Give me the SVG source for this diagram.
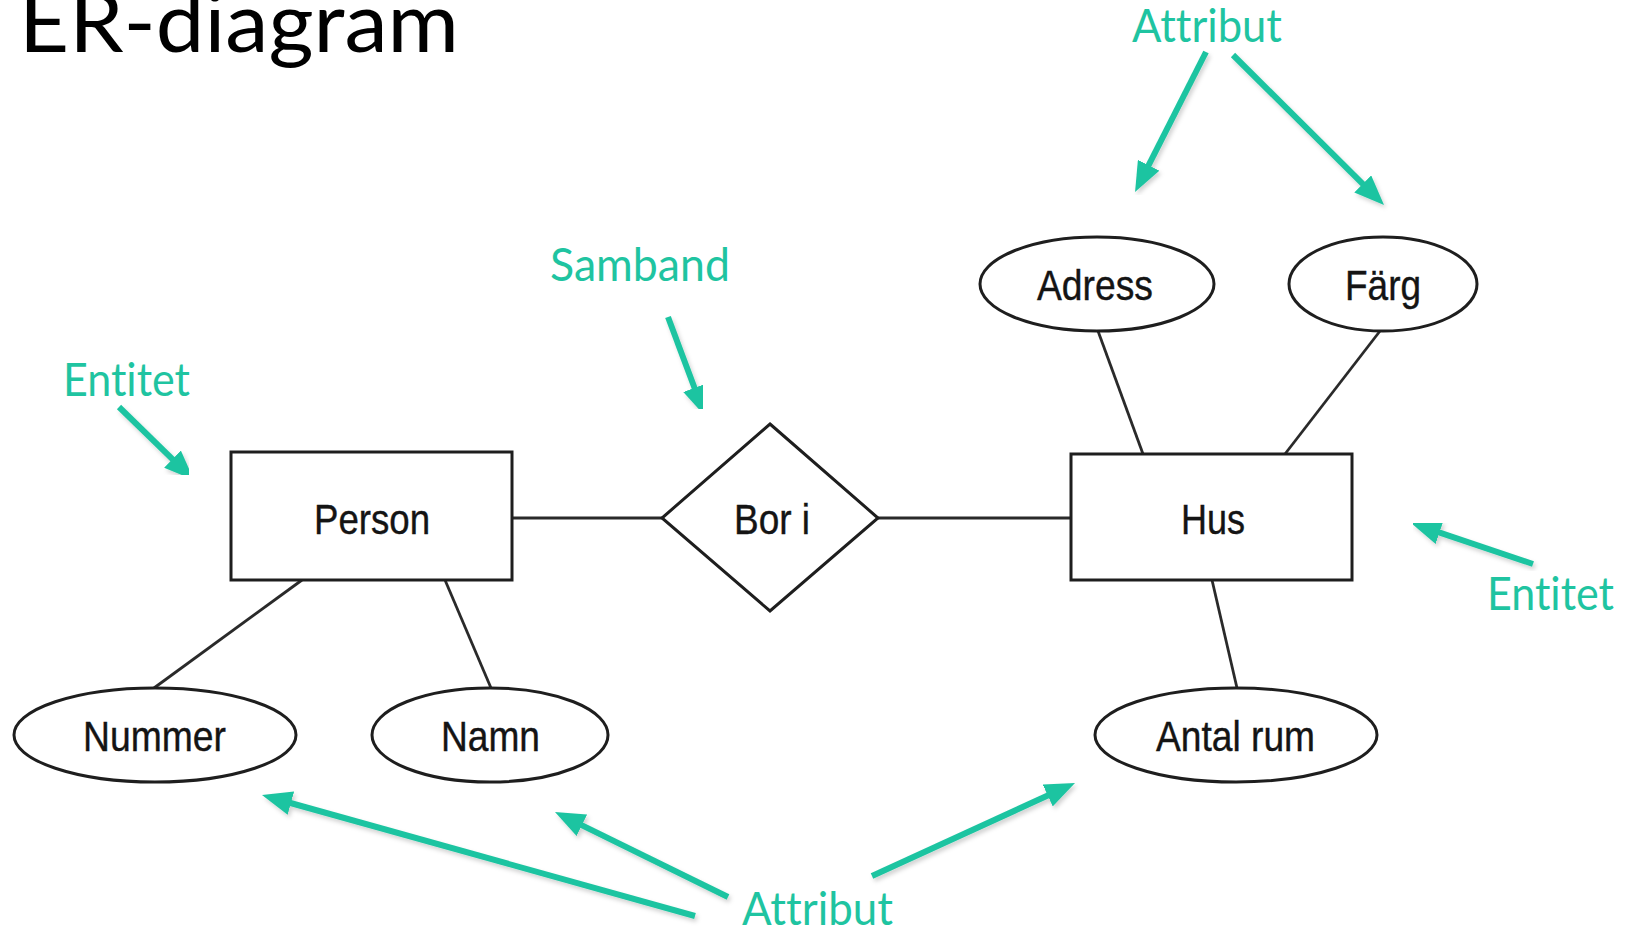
<svg xmlns="http://www.w3.org/2000/svg" width="1630" height="928" viewBox="0 0 1630 928">
  <style>
    .shape { fill: #ffffff; stroke: #1e1e1e; stroke-width: 3; }
    .link { stroke: #2a2a2a; stroke-width: 2.8; fill: none; }
    .label { font-family: "Liberation Sans", Arial, sans-serif; font-size: 43px; fill: #141414; stroke: #141414; stroke-width: 0.4; }
    .note { font-family: Lato, "Open Sans", sans-serif; font-size: 46px; fill: #1fc4a1; font-variant-ligatures: none; }
    .pointer { stroke: #1fc4a1; stroke-width: 6; fill: none; marker-end: url(#head); filter: url(#soft); }
    .title { font-family: Lato, "Open Sans", sans-serif; font-size: 84px; fill: #000000; }
  </style>
  <defs>
    <marker id="head" viewBox="0 0 10 8" markerWidth="5" markerHeight="4" refX="2" refY="4" orient="auto">
      <path d="M0,0 L10,4 L0,8 Z" fill="#1fc4a1"/>
    </marker>
    <filter id="soft" x="-20%" y="-20%" width="140%" height="140%">
      <feDropShadow dx="2" dy="3" stdDeviation="2" flood-color="#000000" flood-opacity="0.18"/>
    </filter>
  </defs>

  <rect width="1630" height="928" fill="#ffffff"/>

  <!-- heading -->
  <text class="title" x="19" y="52" textLength="440" lengthAdjust="spacingAndGlyphs">ER-diagram</text>

  <!-- connectors between entities, relation and attributes -->
  <g id="connectors">
    <line class="link" x1="512" y1="518" x2="662" y2="518"/>
    <line class="link" x1="878" y1="518" x2="1071" y2="518"/>
    <line class="link" x1="302" y1="580" x2="154" y2="688"/>
    <line class="link" x1="445" y1="580" x2="491" y2="688"/>
    <line class="link" x1="1098" y1="331" x2="1143" y2="454"/>
    <line class="link" x1="1380" y1="331" x2="1285" y2="454"/>
    <line class="link" x1="1212" y1="580" x2="1237" y2="688"/>
  </g>

  <g id="person">
    <rect class="shape" x="231" y="452" width="281" height="128"/>
    <text class="label" x="314" y="534" textLength="116" lengthAdjust="spacingAndGlyphs">Person</text>
  </g>

  <g id="bor-i">
    <polygon class="shape" points="770,424 878,518 770,611 662,518"/>
    <text class="label" x="734" y="534" textLength="76" lengthAdjust="spacingAndGlyphs">Bor i</text>
  </g>

  <g id="hus">
    <rect class="shape" x="1071" y="454" width="281" height="126"/>
    <text class="label" x="1181" y="534" textLength="64" lengthAdjust="spacingAndGlyphs">Hus</text>
  </g>

  <g id="adress">
    <ellipse class="shape" cx="1097" cy="284" rx="117" ry="47"/>
    <text class="label" x="1037" y="300" textLength="116" lengthAdjust="spacingAndGlyphs">Adress</text>
  </g>

  <g id="farg">
    <ellipse class="shape" cx="1383" cy="284" rx="94" ry="47"/>
    <text class="label" x="1345" y="300" textLength="76" lengthAdjust="spacingAndGlyphs">Färg</text>
  </g>

  <g id="nummer">
    <ellipse class="shape" cx="155" cy="735" rx="141" ry="47"/>
    <text class="label" x="83" y="751" textLength="143" lengthAdjust="spacingAndGlyphs">Nummer</text>
  </g>

  <g id="namn">
    <ellipse class="shape" cx="490" cy="735" rx="118" ry="47"/>
    <text class="label" x="441" y="751" textLength="99" lengthAdjust="spacingAndGlyphs">Namn</text>
  </g>

  <g id="antal-rum">
    <ellipse class="shape" cx="1236" cy="735" rx="141" ry="47"/>
    <text class="label" x="1156" y="751" textLength="159" lengthAdjust="spacingAndGlyphs">Antal rum</text>
  </g>

  <!-- explanatory callouts -->
  <g id="callouts">
    <text class="note" x="1132" y="42" textLength="150" lengthAdjust="spacingAndGlyphs">Attribut</text>
    <line class="pointer" x1="1206" y1="52" x2="1145.9" y2="170.6"/>
    <line class="pointer" x1="1233" y1="55" x2="1367" y2="188.1"/>

    <text class="note" x="550" y="281" textLength="180" lengthAdjust="spacingAndGlyphs">Samband</text>
    <line class="pointer" x1="668" y1="317" x2="696.6" y2="393.5"/>

    <text class="note" x="63" y="396" textLength="127" lengthAdjust="spacingAndGlyphs">Entitet</text>
    <line class="pointer" x1="119" y1="407" x2="176.8" y2="463.3"/>

    <text class="note" x="1487" y="610" textLength="127" lengthAdjust="spacingAndGlyphs">Entitet</text>
    <line class="pointer" x1="1533" y1="564" x2="1433.8" y2="530.6"/>

    <text class="note" x="742" y="925" textLength="151" lengthAdjust="spacingAndGlyphs">Attribut</text>
    <line class="pointer" x1="695" y1="916" x2="285.1" y2="801.5"/>
    <line class="pointer" x1="728" y1="897" x2="576.5" y2="822.6"/>
    <line class="pointer" x1="872" y1="876" x2="1053.2" y2="793"/>
  </g>
</svg>
